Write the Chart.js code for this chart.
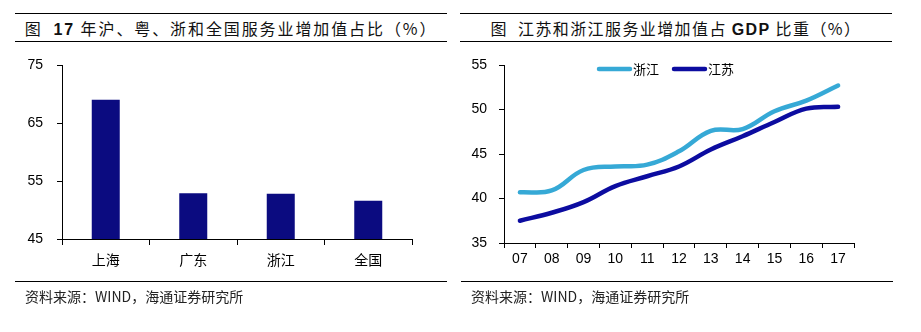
<!DOCTYPE html>
<html>
<head>
<meta charset="utf-8">
<script src="https://cdn.jsdelivr.net/npm/chart.js@4.4.1/dist/chart.umd.min.js"></script>
<style>
  html, body { margin: 0; padding: 0; background: #fff; }
  body { width: 921px; height: 332px; position: relative; overflow: hidden; font-family: "Noto Sans CJK SC", sans-serif; }
  .title { position: absolute; top: 13px; height: 27px; border-top: 1.5px solid #000; border-bottom: 1.5px solid #000;
           font-size: 16px; line-height: 29px; text-align: center; color: #111; white-space: nowrap; }
  .title b { font-family: "Liberation Sans", Arial, sans-serif; font-weight: bold; }
  .foot { position: absolute; top: 281px; border-top: 1.5px solid #000; font-size: 14px; line-height: 28px;
          color: #222; padding-left: 10px; white-space: nowrap; }
  .box { position: absolute; top: 55px; width: 440px; height: 230px; }
  canvas { display: block; }
</style>
</head>
<body>
<div class="title" style="left:15px;width:432px;letter-spacing:1.9px;">图&nbsp;&nbsp;<b>17</b> 年沪、粤、浙和全国服务业增加值占比（%）</div>
<div class="title" style="left:460px;width:432px;letter-spacing:1.4px;">图&nbsp;&nbsp;江苏和浙江服务业增加值占 <b>GDP</b> 比重（%）</div>
<div class="box" style="left:0px;"><canvas id="c1" width="440" height="230"></canvas></div>
<div class="box" style="left:460px;"><canvas id="c2" width="440" height="230"></canvas></div>
<div class="foot" style="left:15px;width:422px;">资料来源：WIND，海通证券研究所</div>
<div class="foot" style="left:461px;width:422px;">资料来源：WIND，海通证券研究所</div>
<script>
// Left chart: 2017 services share
const regions = ["上海", "广东", "浙江", "全国"];
const serviceShare2017 = [69.0, 52.9, 52.8, 51.6];
const leftYTicks = [45, 55, 65, 75];

// Right chart: Jiangsu & Zhejiang services share of GDP
const years = ["07", "08", "09", "10", "11", "12", "13", "14", "15", "16", "17"];
const zhejiang = [40.7, 40.9, 43.2, 43.6, 43.8, 45.3, 47.6, 47.8, 49.8, 51.0, 52.7];
const jiangsu = [37.5, 38.4, 39.6, 41.4, 42.5, 43.6, 45.5, 47.0, 48.6, 50.1, 50.3];
const rightYTicks = [35, 40, 45, 50, 55];

Chart.defaults.animation = false;
Chart.defaults.responsive = false;
Chart.defaults.color = "#000";

const numFont = { family: "'Liberation Sans', Arial, sans-serif", size: 14 };
const cjkFont = { family: "'Noto Sans CJK SC', sans-serif", size: 14 };

// Inline legend drawn at the top of the plot area from the datasets
const inlineLegend = {
  id: "inlineLegend",
  afterDraw(chart) {
    const ctx = chart.ctx;
    const area = chart.chartArea;
    let x = area.left + 93;
    const y = area.top + 4;
    ctx.save();
    ctx.font = "13px 'Noto Sans CJK SC', sans-serif";
    ctx.textBaseline = "middle";
    chart.data.datasets.forEach(ds => {
      ctx.strokeStyle = ds.borderColor;
      ctx.lineWidth = ds.borderWidth;
      ctx.lineCap = "round";
      ctx.beginPath();
      ctx.moveTo(x + 2, y);
      ctx.lineTo(x + 33, y);
      ctx.stroke();
      ctx.fillStyle = "#000";
      ctx.fillText(ds.label, x + 36, y);
      x += 36 + ctx.measureText(ds.label).width + 13;
    });
    ctx.restore();
  }
};

const fitY = w => s => { s.width = w; s.paddingTop = 8; s.paddingBottom = 8; };

new Chart(document.getElementById("c1"), {
  type: "bar",
  data: {
    labels: regions,
    datasets: [{ data: serviceShare2017, backgroundColor: "#0b0b80", categoryPercentage: 1, barPercentage: 0.32 }]
  },
  options: {
    layout: { padding: { top: 10, right: 28, left: 0, bottom: 0 } },
    plugins: { legend: { display: false }, tooltip: { enabled: false } },
    scales: {
      x: {
        afterFit: s => { s.height = 46; },
        grid: { drawOnChartArea: false, drawTicks: true, tickLength: 6, color: "#000", offset: true },
        border: { color: "#000", width: 1 },
        ticks: { font: cjkFont, padding: 6, color: "#000" }
      },
      y: {
        min: 45, max: 75,
        afterFit: fitY(62),
        afterBuildTicks: s => { s.ticks = leftYTicks.map(v => ({ value: v })); },
        grid: { drawOnChartArea: false, drawTicks: true, tickLength: 5, color: "#000" },
        border: { color: "#000", width: 1 },
        ticks: { font: numFont, padding: 14, color: "#000" }
      }
    }
  }
});

new Chart(document.getElementById("c2"), {
  type: "line",
  data: {
    labels: years,
    datasets: [
      { label: "浙江", data: zhejiang, borderColor: "#36a9d6", backgroundColor: "#36a9d6", borderWidth: 4.5,
        pointRadius: 0, tension: 0.4, borderCapStyle: "round" },
      { label: "江苏", data: jiangsu, borderColor: "#0c0ca0", backgroundColor: "#0c0ca0", borderWidth: 4.5,
        pointRadius: 0, tension: 0.4, borderCapStyle: "round" }
    ]
  },
  options: {
    layout: { padding: { top: 10, right: 46, left: 0, bottom: 0 } },
    plugins: { tooltip: { enabled: false }, legend: { display: false } },
    scales: {
      x: {
        offset: true,
        afterFit: s => { s.height = 42; },
        grid: { drawOnChartArea: false, drawTicks: true, tickLength: 5, color: "#000", offset: true },
        border: { color: "#000", width: 1 },
        ticks: { font: numFont, padding: 3, color: "#000", maxRotation: 0, autoSkip: false }
      },
      y: {
        min: 35, max: 55,
        afterFit: fitY(44),
        afterBuildTicks: s => { s.ticks = rightYTicks.map(v => ({ value: v })); },
        grid: { drawOnChartArea: false, drawTicks: true, tickLength: 5, color: "#000" },
        border: { color: "#000", width: 1 },
        ticks: { font: numFont, padding: 12, color: "#000" }
      }
    }
  },
  plugins: [inlineLegend]
});
</script>
</body>
</html>
